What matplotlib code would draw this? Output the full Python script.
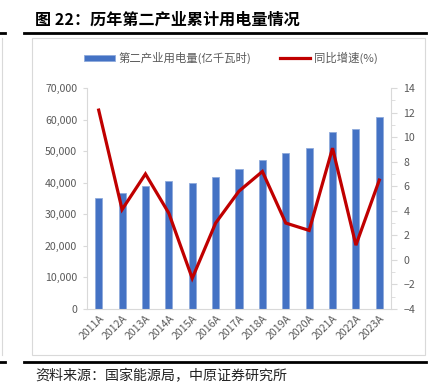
import matplotlib
matplotlib.use("Agg")
import matplotlib.pyplot as plt
from matplotlib.lines import Line2D
from matplotlib.patches import Rectangle
from matplotlib.ticker import FuncFormatter, MultipleLocator

plt.rcParams['font.family'] = ['Noto Sans CJK SC', 'DejaVu Sans']

years = ["2011A", "2012A", "2013A", "2014A", "2015A", "2016A", "2017A",
         "2018A", "2019A", "2020A", "2021A", "2022A", "2023A"]
usage = [35100, 36650, 39000, 40500, 39900, 41900, 44250,
         47200, 49300, 51100, 56100, 56900, 60700]
growth = [12.2, 4.1, 7.0, 3.8, -1.5, 3.0, 5.6, 7.2, 3.0, 2.4, 9.1, 1.2, 6.5]

title = "图 22：历年第二产业累计用电量情况"
source = "资料来源：国家能源局，中原证券研究所"

BLUE = "#4472C4"
RED = "#C00000"
GRAY = "#595959"
AXC = "#D9D9D9"

fig = plt.figure(figsize=(4.44, 3.84), dpi=100)

# frame and rules
fig.add_artist(Rectangle((32 / 444, 1 - 355 / 384), (425 - 32) / 444, (355 - 38) / 384,
                         transform=fig.transFigure, fill=False, ec="#D9D9D9", lw=0.8))
fig.add_artist(Line2D([24 / 444, 426 / 444], [1 - 33 / 384] * 2, color="black", lw=2))
fig.add_artist(Line2D([24 / 444, 426 / 444], [1 - 362 / 384] * 2, color="black", lw=2))
fig.add_artist(Line2D([0, 5 / 444], [1 - 33 / 384] * 2, color="black", lw=2))
fig.add_artist(Line2D([0, 5 / 444], [1 - 362 / 384] * 2, color="black", lw=2))
fig.add_artist(Line2D([2 / 444] * 2, [1 - 38 / 384, 1 - 355 / 384], color="#D9D9D9", lw=0.8))

fig.text(35 / 444, 1 - 20 / 384, title, fontsize=11.6, fontweight="bold",
         va="center", ha="left", color="black")
fig.text(35 / 444, 1 - 376 / 384, source, fontsize=10.1, va="center", ha="left",
         color="#222222")

ax = fig.add_axes([87 / 444, 1 - 309 / 384, (391 - 87) / 444, (309 - 88) / 384])
x = list(range(len(years)))
bars = ax.bar(x, usage, width=0.3, color=BLUE, edgecolor="#8FAADC", linewidth=0.6,
              label="第二产业用电量(亿千瓦时)", zorder=2)
ax.set_xlim(-0.5, len(years) - 0.5)
ax.set_ylim(0, 70000)
ax.yaxis.set_major_locator(MultipleLocator(10000))
ax.yaxis.set_major_formatter(FuncFormatter(lambda v, p: f"{int(v):,}"))
ax.set_xticks(x)
ax.set_xticklabels(years, rotation=45, ha="right", rotation_mode="anchor")
for s in ["top", "right"]:
    ax.spines[s].set_visible(False)
for s in ["left", "bottom"]:
    ax.spines[s].set_color(AXC)
ax.tick_params(axis="y", colors=GRAY, labelsize=7.6, length=3, color=AXC, pad=4)
ax.tick_params(axis="x", colors=GRAY, labelsize=7.6, length=0, pad=3)

ax2 = ax.twinx()
line, = ax2.plot(x, growth, color=RED, lw=2.3, label="同比增速(%)", zorder=3,
                 solid_joinstyle="miter")
ax2.set_ylim(-4, 14)
ax2.yaxis.set_major_locator(MultipleLocator(2))
ax2.yaxis.set_minor_locator(MultipleLocator(1))
for s in ["top", "left", "bottom"]:
    ax2.spines[s].set_visible(False)
ax2.spines["right"].set_color(AXC)
ax2.tick_params(axis="y", which="major", colors=GRAY, labelsize=7.6, length=4, color=AXC, pad=5)
ax2.tick_params(axis="y", which="minor", length=3, color=AXC)

leg = fig.legend([bars, line], ["第二产业用电量(亿千瓦时)", "同比增速(%)"],
                 loc="center", bbox_to_anchor=(231 / 444, 1 - 58 / 384), ncol=2,
                 frameon=False, fontsize=8.2, labelcolor=GRAY,
                 handlelength=2.7, handleheight=0.55, columnspacing=2.5, handletextpad=0.3)

fig.savefig("out.png", dpi=100)
